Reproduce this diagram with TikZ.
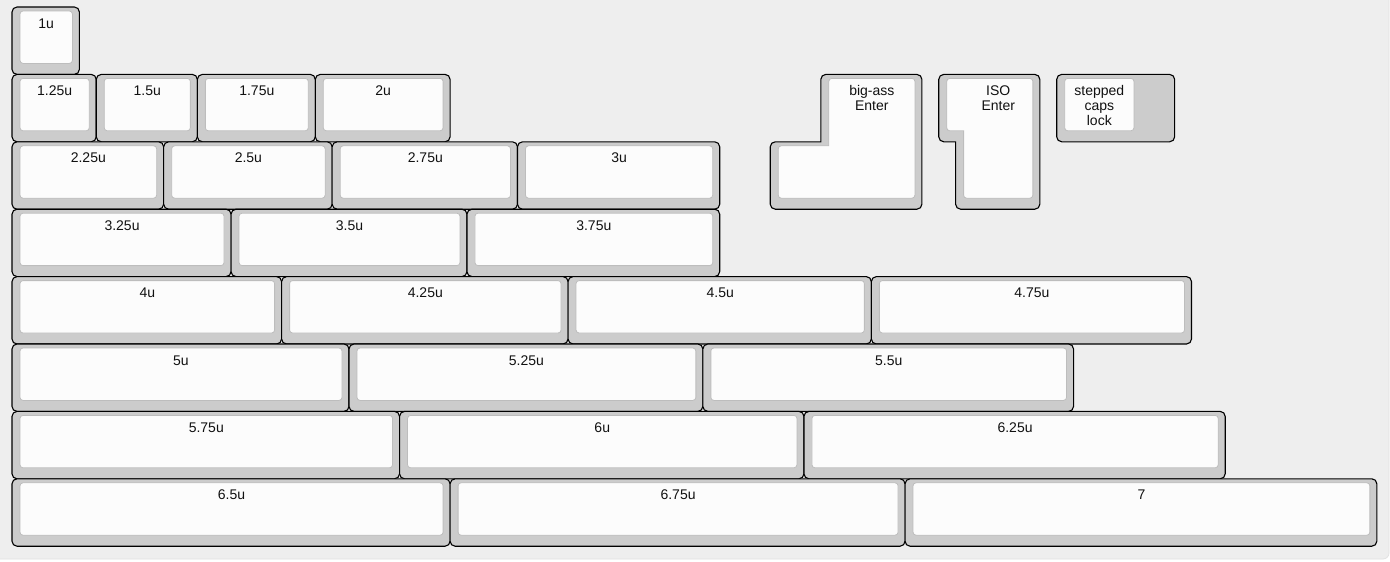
\documentclass[tikz,border=0pt]{standalone}
\usepackage{fontspec}
\setmainfont{Liberation Sans}
\definecolor{bgc}{HTML}{EEEEEE}
\definecolor{bgline}{HTML}{E2E2E2}
\definecolor{capc}{HTML}{CCCCCC}
\definecolor{topc}{HTML}{FCFCFC}
\definecolor{topb}{HTML}{BDBDBD}
\definecolor{txt}{HTML}{111111}
\def\ku{67.4}
\tikzset{
  capouter/.style={fill=capc, draw=black, line width=1.1pt, rounded corners=5pt},
  captop/.style={fill=topc, draw=topb, line width=0.8pt, rounded corners=3pt},
  caplabel/.style={font=\fontsize{14}{15}\selectfont, text=txt, anchor=base, inner sep=0pt, align=center},
}
% \kkey{x}{y}{w}{label}{name}
\newcommand\kkey[5]{%
  \draw[capouter] ({12+#1*\ku},{7+#2*\ku}) rectangle ({12+(#1+#3)*\ku},{7+(#2+1)*\ku});
  \draw[captop] ({12+#1*\ku+8},{7+#2*\ku+4}) rectangle ({12+(#1+#3)*\ku-7},{7+(#2+1)*\ku-11});
  \node[caplabel] (#5) at ({12+(#1+#3/2)*\ku+0.5},{7+#2*\ku+21}) {#4};
}
\begin{document}
\begin{tikzpicture}[x=1pt,y=-1pt]
\useasboundingbox (0,0) rectangle (1390,562);
\fill[white] (0,0) rectangle (1390,562);
\draw[fill=bgc, draw=bgline, line width=0.8pt, rounded corners=6pt] (-10,-10) rectangle (1389,559);

% row 1
\kkey{0}{0}{1}{1u}{k1}
% row 2
\kkey{0}{1}{1.25}{1.25u}{k125}
\kkey{1.25}{1}{1.5}{1.5u}{k15}
\kkey{2.75}{1}{1.75}{1.75u}{k175}
\kkey{4.5}{1}{2}{2u}{k2}
% row 3
\kkey{0}{2}{2.25}{2.25u}{k225}
\kkey{2.25}{2}{2.5}{2.5u}{k25}
\kkey{4.75}{2}{2.75}{2.75u}{k275}
\kkey{7.5}{2}{3}{3u}{k3}
% row 4
\kkey{0}{3}{3.25}{3.25u}{k325}
\kkey{3.25}{3}{3.5}{3.5u}{k35}
\kkey{6.75}{3}{3.75}{3.75u}{k375}
% row 5
\kkey{0}{4}{4}{4u}{k4}
\kkey{4}{4}{4.25}{4.25u}{k425}
\kkey{8.25}{4}{4.5}{4.5u}{k45}
\kkey{12.75}{4}{4.75}{4.75u}{k475}
% row 6
\kkey{0}{5}{5}{5u}{k5}
\kkey{5}{5}{5.25}{5.25u}{k525}
\kkey{10.25}{5}{5.5}{5.5u}{k55}
% row 7
\kkey{0}{6}{5.75}{5.75u}{k575}
\kkey{5.75}{6}{6}{6u}{k6}
\kkey{11.75}{6}{6.25}{6.25u}{k625}
% row 8
\kkey{0}{7}{6.5}{6.5u}{k65}
\kkey{6.5}{7}{6.75}{6.75u}{k675}
\kkey{13.25}{7}{7}{7}{k7}

% big-ass Enter (concave corner kept sharp)
\draw[capouter] ({12+12*\ku},{7+1*\ku}) -- ({12+13.5*\ku},{7+1*\ku}) -- ({12+13.5*\ku},{7+3*\ku})
  -- ({12+11.25*\ku},{7+3*\ku}) -- ({12+11.25*\ku},{7+2*\ku}) [sharp corners] -- ({12+12*\ku},{7+2*\ku}) [rounded corners=5pt] -- cycle;
\draw[captop] ({12+12*\ku+8},{7+1*\ku+4}) -- ({12+13.5*\ku-7},{7+1*\ku+4}) -- ({12+13.5*\ku-7},{7+3*\ku-11})
  -- ({12+11.25*\ku+8},{7+3*\ku-11}) -- ({12+11.25*\ku+8},{7+2*\ku+4}) [sharp corners] -- ({12+12*\ku+8},{7+2*\ku+4}) [rounded corners=3pt] -- cycle;
\node[caplabel] (bigenter) at ({12+12.75*\ku+0.5},{7+1*\ku+21+15}) {big-ass\\Enter};

% ISO Enter (concave corner kept sharp)
\draw[capouter] ({12+13.75*\ku},{7+1*\ku}) -- ({12+15.25*\ku},{7+1*\ku}) -- ({12+15.25*\ku},{7+3*\ku})
  -- ({12+14*\ku},{7+3*\ku}) [sharp corners] -- ({12+14*\ku},{7+2*\ku}) [rounded corners=5pt] -- ({12+13.75*\ku},{7+2*\ku}) -- cycle;
\draw[captop] ({12+13.75*\ku+8},{7+1*\ku+4}) -- ({12+15.25*\ku-7},{7+1*\ku+4}) -- ({12+15.25*\ku-7},{7+3*\ku-11})
  -- ({12+14*\ku+8},{7+3*\ku-11}) [sharp corners] -- ({12+14*\ku+8},{7+2*\ku-11}) [rounded corners=3pt] -- ({12+13.75*\ku+8},{7+2*\ku-11}) -- cycle;
\node[caplabel] (isoenter) at ({12+14.625*\ku+0.5},{7+1*\ku+21+15}) {ISO\\Enter};

% stepped caps lock
\draw[capouter] ({12+15.5*\ku},{7+1*\ku}) rectangle ({12+17.25*\ku},{7+2*\ku});
\draw[captop] ({12+15.5*\ku+8},{7+1*\ku+4}) rectangle ({12+16.75*\ku-7},{7+2*\ku-11});
\node[caplabel] (steppedcaps) at ({12+16.125*\ku+0.5},{7+1*\ku+21+30}) {stepped\\caps\\lock};
\end{tikzpicture}
\end{document}
